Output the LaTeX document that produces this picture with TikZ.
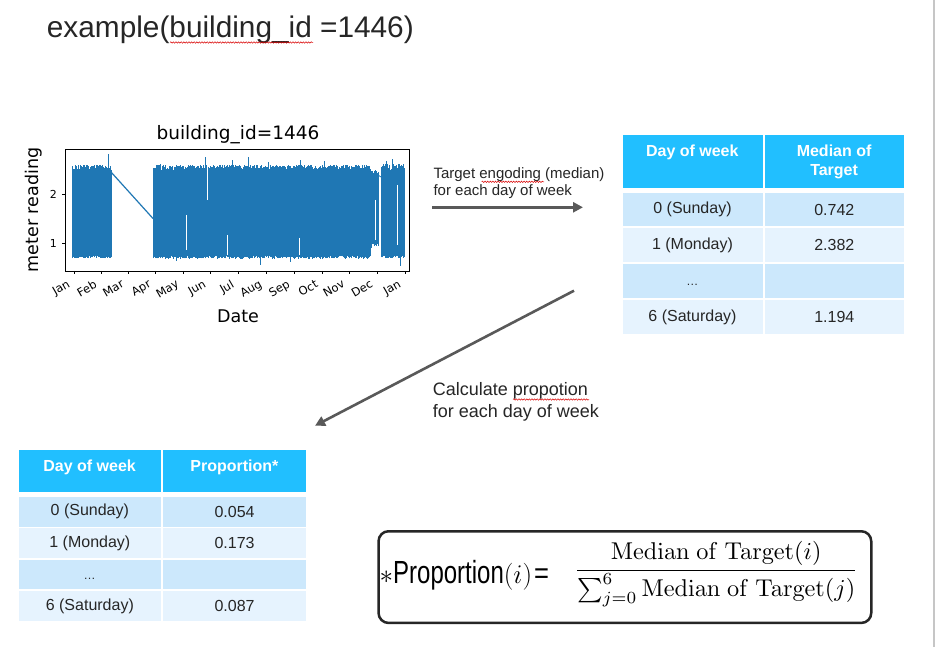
\RequirePackage{fix-cm}
\documentclass[tikz,border=0pt]{standalone}
\usepackage[no-math]{fontspec}
\setmainfont{Liberation Sans}
\newfontfamily\dvs{DejaVu Sans}
\usepackage{graphicx}
\usetikzlibrary{arrows.meta,decorations.pathmorphing}
\definecolor{txt}{HTML}{262626}
\definecolor{hdr}{RGB}{33,191,255}
\definecolor{rowa}{RGB}{204,232,252}
\definecolor{rowb}{RGB}{230,243,254}
\definecolor{arrowgray}{HTML}{595959}
\definecolor{mplblue}{HTML}{1F77B4}
\begin{document}
\begin{tikzpicture}[x=1pt,y=-1pt,
  cell/.style={rectangle, inner sep=0pt, anchor=north west, text=txt, font=\fontsize{16}{19}\selectfont},
  hcell/.style={cell, fill=hdr},
  acell/.style={cell, fill=rowa},
  bcell/.style={cell, fill=rowb},
  htext/.style={anchor=base, inner sep=0pt, text=white, font=\bfseries\fontsize{16}{19}\selectfont},
  dots/.style={anchor=base, inner sep=0pt, text=txt, font=\fontsize{12}{14}\selectfont},
  flow/.style={draw=arrowgray, line width=2.6pt, -{Triangle[length=10pt,width=10pt]}},
  albl/.style={anchor=base west, inner sep=0pt, text=txt},
  squig/.style={draw=red!85!black, line width=0.5pt, decorate, decoration={snake, amplitude=0.7pt, segment length=2.6pt}},
  pl/.style={draw=mplblue, line width=0.75pt},
  tickm/.style={draw=black, line width=0.7pt},
  mlbl/.style={anchor=north east, inner sep=0pt, rotate=30, font=\dvs\fontsize{11.5}{13}\selectfont},
  ylbl/.style={anchor=east, inner sep=0pt, font=\dvs\fontsize{11}{13}\selectfont},
]
\useasboundingbox (0,0) rectangle (935,647);
\fill[white] (0,0) rectangle (935,647);
\draw[gray!45, line width=1.2pt] (934,0) -- (934,647);

% title
\node[anchor=base west, inner sep=0pt, text=txt, font=\fontsize{29.8}{34}\selectfont] (title) at (46.7,37.5) {example(building\_id =1446)};
\draw[squig] (170,42.5) -- (313,42.5);

% ---------- plot ----------
\pgfmathsetseed{1446}
\foreach \x in {72,72.5,...,111}{
  \pgfmathsetmacro\hi{292-49*(2.48+0.12*rnd)}
  \pgfmathsetmacro\lo{292-49*(0.69+0.05*rnd)}
  \draw[pl] (\x,\lo) -- (\x,\hi);
}
\foreach \x in {153,153.5,...,370}{
  \pgfmathsetmacro\hi{292-49*(2.48+0.12*rnd)}
  \pgfmathsetmacro\lo{292-49*(0.68+0.06*rnd)}
  \draw[pl] (\x,\lo) -- (\x,\hi);
}
\foreach \x in {371,371.5,...,378}{
  \pgfmathsetmacro\hi{292-49*(2.38+0.1*rnd)}
  \pgfmathsetmacro\lo{292-49*(0.9+0.1*rnd)}
  \draw[pl] (\x,\lo) -- (\x,\hi);
}
\foreach \x in {381,381.5,...,404}{
  \pgfmathsetmacro\hi{292-49*(2.48+0.14*rnd)}
  \pgfmathsetmacro\lo{292-49*(0.69+0.06*rnd)}
  \draw[pl] (\x,\lo) -- (\x,\hi);
}
\draw[pl] (108,256) -- (108,154);
\draw[pl, line width=1.2pt] (111,172) -- (153,218.5);
\draw[pl] (378,175) -- (381,177);
\foreach \x/\v in {205/2.76,232/2.7,248/2.75,300/2.7,324/2.68,386/2.67,392/2.72,160/2.62,268/2.66}{
  \draw[pl] (\x,230) -- (\x,{292-49*\v});
}
\foreach \x/\v in {260/0.56,290/0.62,400/0.53,176/0.64}{
  \draw[pl] (\x,230) -- (\x,{292-49*\v});
}
\foreach \x/\a/\b in {207/166/200,227/235/255,299/238/255,397/185/245,375/200/240,186/215/250}{
  \draw[white, line width=0.45pt] (\x,\a) -- (\x,\b);
}
\draw[black, line width=0.8pt] (65.7,149) rectangle (409,271);
\foreach \yy/\lab in {194/2,243/1}{
  \draw[tickm] (65.7,\yy) -- (62.2,\yy);
  \node[ylbl] (yt\lab) at (57,\yy) {\lab};
}
\foreach \mx/\mn [count=\i] in {74/Jan,101/Feb,128/Mar,155/Apr,183/May,210/Jun,238/Jul,266/Aug,294/Sep,322/Oct,349/Nov,377/Dec,405/Jan}{
  \draw[tickm] (\mx,271) -- (\mx,274.5);
  \node[mlbl] (m\i) at (\mx-7.5,279) {\mn};
}
\node[anchor=base, inner sep=0pt, font=\dvs\fontsize{18.5}{22}\selectfont] (ptitle) at (238,139.5) {building\_id=1446};
\node[rotate=90, inner sep=0pt, font=\dvs\fontsize{17.5}{20}\selectfont] (ylab) at (34,210) {meter reading};
\node[inner sep=0pt, font=\dvs\fontsize{17.5}{20}\selectfont] (xlab) at (238,316) {Date};

% ---------- table 1 ----------
\node[hcell, minimum width=140pt, minimum height=52.7pt] (ta-h1) at (622.3,135) {};
\node[hcell, minimum width=139.7pt, minimum height=52.7pt] (ta-h2) at (764.3,135) {};
\node[htext] (ta-t1) at (692.3,156.7) {Day of week};
\node[htext] (ta-t2) at (834.1,156.7) {Median of};
\node[htext] (ta-t3) at (834.1,175.7) {Target};
\node[acell, minimum width=140pt, minimum height=33.8pt] (ta-11) at (622.3,192.5) {0 (Sunday)};
\node[acell, minimum width=139.7pt, minimum height=33.8pt] (ta-12) at (764.3,192.5) {0.742};
\node[bcell, minimum width=140pt, minimum height=33.8pt] (ta-21) at (622.3,228.3) {1 (Monday)};
\node[bcell, minimum width=139.7pt, minimum height=33.8pt] (ta-22) at (764.3,228.3) {2.382};
\node[acell, minimum width=140pt, minimum height=33.8pt] (ta-31) at (622.3,264.1) {};
\node[acell, minimum width=139.7pt, minimum height=33.8pt] (ta-32) at (764.3,264.1) {};
\node[dots] (ta-d) at (692.3,285.5) {…};
\node[bcell, minimum width=140pt, minimum height=33.8pt] (ta-41) at (622.3,299.9) {6 (Saturday)};
\node[bcell, minimum width=139.7pt, minimum height=33.8pt] (ta-42) at (764.3,299.9) {1.194};

% ---------- table 2 ----------
\node[hcell, minimum width=142.7pt, minimum height=42pt] (tb-h1) at (18.3,450) {};
\node[hcell, minimum width=142.7pt, minimum height=42pt] (tb-h2) at (163,450) {};
\node[htext] (tb-t1) at (89.65,471) {Day of week};
\node[htext] (tb-t2) at (234.35,471) {Proportion*};
\node[acell, minimum width=142.7pt, minimum height=29.6pt] (tb-11) at (18.3,496.8) {0 (Sunday)};
\node[acell, minimum width=142.7pt, minimum height=29.6pt] (tb-12) at (163,496.8) {0.054};
\node[bcell, minimum width=142.7pt, minimum height=29.6pt] (tb-21) at (18.3,528.2) {1 (Monday)};
\node[bcell, minimum width=142.7pt, minimum height=29.6pt] (tb-22) at (163,528.2) {0.173};
\node[acell, minimum width=142.7pt, minimum height=29.6pt] (tb-31) at (18.3,559.6) {};
\node[acell, minimum width=142.7pt, minimum height=29.6pt] (tb-32) at (163,559.6) {};
\node[dots] (tb-d) at (89.65,579.5) {…};
\node[bcell, minimum width=142.7pt, minimum height=29.6pt] (tb-41) at (18.3,591) {6 (Saturday)};
\node[bcell, minimum width=142.7pt, minimum height=29.6pt] (tb-42) at (163,591) {0.087};

% ---------- arrows ----------
\coordinate (a1s) at (432.3,207.3);
\coordinate (a1e) at (583,207.3);
\draw[flow] (a1s) -- (a1e);
\node[albl, font=\fontsize{15}{17}\selectfont] (l1a) at (433.3,178.3) {Target engoding (median)};
\node[albl, font=\fontsize{15}{17}\selectfont] (l1b) at (433.3,195.7) {for each day of week};
\draw[squig] (481.7,181.8) -- (544,181.8);

\coordinate (a2s) at (574,290.7);
\coordinate (a2e) at (315,425.7);
\draw[flow] (a2s) -- (a2e);
\node[albl, font=\fontsize{18}{21}\selectfont] (l2a) at (432.7,395.7) {Calculate propotion};
\node[albl, font=\fontsize{18}{21}\selectfont] (l2b) at (432.7,417.3) {for each day of week};
\draw[squig] (513,399.5) -- (589,399.5);

% ---------- formula ----------
\node[draw=txt, line width=2.5pt, rounded corners=10pt, minimum width=492.7pt, minimum height=91.7pt, anchor=north west, inner sep=0pt] (fbox) at (377.3,530) {};
\node[anchor=base west, inner sep=0pt, text=black] (plhs) at (379.5,583.3) {\fontsize{27}{30}\selectfont$\ast$\scalebox{0.75}[1]{\fontsize{32}{36}\selectfont Proportion}$(i)$\hspace{2pt}\scalebox{0.85}[1]{\fontsize{30}{36}\selectfont=}};
\node[inner sep=0pt, text=black] (frac) at (716.2,574.3) {\resizebox{284pt}{!}{$\displaystyle\frac{\mathrm{Median\ of\ Target}(i)}{\sum_{j=0}^{6}\mathrm{Median\ of\ Target}(j)}$}};
\end{tikzpicture}
\end{document}
